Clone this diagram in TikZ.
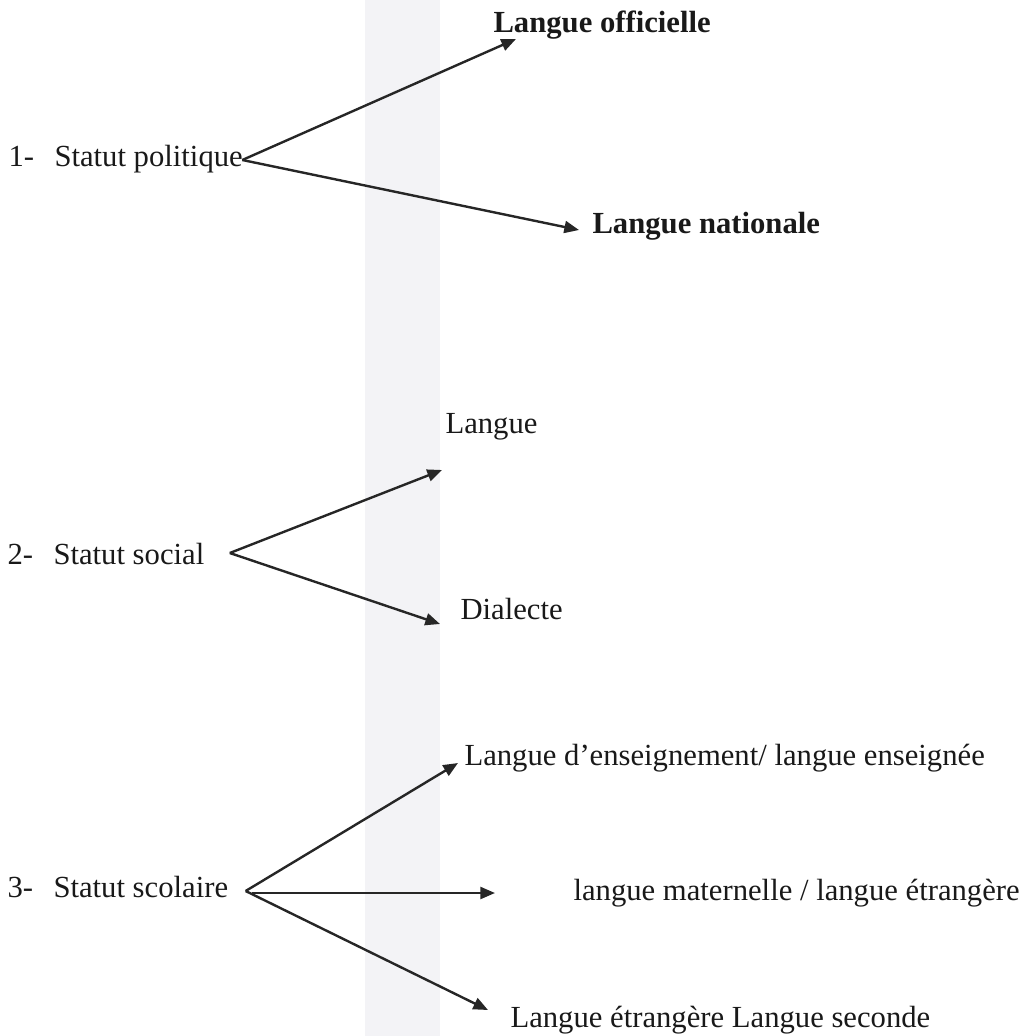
\documentclass[tikz,border=0pt]{standalone}
\usepackage{fontspec}
\setmainfont{Liberation Serif}
\usetikzlibrary{arrows.meta}
\definecolor{band}{RGB}{243,243,246}
\begin{document}
\begin{tikzpicture}
  [x=0.375pt,y=-0.375pt,
   every node/.style={anchor=base west,inner sep=0pt,text=black!90,font=\fontsize{11.5}{14}\selectfont},
   bold/.style={font=\fontsize{11.5}{14}\selectfont\bfseries},
   arr/.style={-{Triangle[length=5.5pt,width=4.5pt]},line width=0.9pt,black!85}]
  \useasboundingbox (0,0) rectangle (1021,1036);
  \fill[band] (365,0) rectangle (440,1036);

  \node (pol) at (8,166)    {\makebox[17.25pt][l]{1-}Statut politique};
  \node[bold] (off) at (493,32)  {Langue officielle};
  \node[bold] (nat) at (592,233) {Langue nationale};

  \node (soc) at (7,564)    {\makebox[17.25pt][l]{2-}Statut social};
  \node (lan) at (445,433)  {Langue};
  \node (dia) at (460,619)  {Dialecte};

  \node (sco) at (7,897)    {\makebox[17.25pt][l]{3-}Statut scolaire};
  \node (ens) at (464,765)  {Langue d’enseignement/ langue enseignée};
  \node (mat) at (573,900)  {langue maternelle / langue étrangère};
  \node (sec) at (510,1027) {Langue étrangère Langue seconde};

  \foreach \from/\fs/\to/\ts in
    {pol/{-1,-6}/off/{23,7}, pol/{-1,-6}/nat/{-13,-3},
     soc/{25,-11}/lan/{-3,37}, soc/{25,-11}/dia/{-20,5},
     sco/{17,-6}/ens/{-6,-2}, sco/{23,-4}/mat/{-78,-7}, sco/{17,-6}/sec/{-22,-17}}
    \draw[arr] ([shift={(\fs)}]\from.base east) -- ([shift={(\ts)}]\to.base west);

\end{tikzpicture}
\end{document}
